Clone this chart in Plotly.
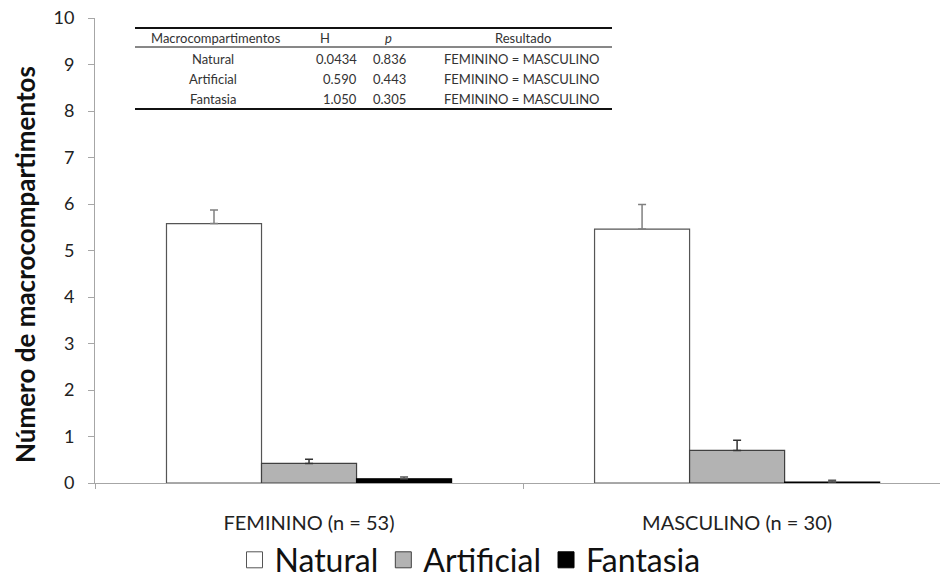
import plotly.graph_objects as go

categories = ["FEMININO (n = 53)", "MASCULINO (n = 30)"]
series_names = ["Natural", "Artificial", "Fantasia"]
natural = [5.58, 5.46]
artificial = [0.42, 0.70]
fantasia = [0.09, 0.02]
natural_err = [0.29, 0.53]
artificial_err = [0.09, 0.22]
fantasia_err = [0.04, 0.04]

y_title = "Número de macrocompartimentos"
table_header = ["Macrocompartimentos", "H", "<i>p</i>", "Resultado"]
table_groups = ["Natural", "Artificial", "Fantasia"]
table_H = ["0.0434", "0.590", "1.050"]
table_p = ["0.836", "0.443", "0.305"]
table_result = ["FEMININO = MASCULINO", "FEMININO = MASCULINO", "FEMININO = MASCULINO"]

FONT = "Lato"
values = [natural, artificial, fantasia]
errors = [natural_err, artificial_err, fantasia_err]
fills = ["#ffffff", "#b3b3b3", "#000000"]
outlines = ["#555555", "#404040", "#000000"]
errcolors = ["#808080", "#333333", "#555555"]

fig = go.Figure()
for name, v, e, fc, lc, ec in zip(series_names, values, errors, fills, outlines, errcolors):
    fig.add_trace(go.Bar(
        x=categories, y=v, name=name, showlegend=False,
        marker=dict(color=fc, line=dict(color=lc, width=1.2)),
        error_y=dict(type="data", symmetric=False, array=e, arrayminus=[0] * len(e),
                     color=ec, thickness=1.5, width=4),
    ))
    # legend entry with larger square symbol
    fig.add_trace(go.Scatter(
        x=[None], y=[None], mode="markers", name=name,
        marker=dict(symbol="square", size=16, color=fc, line=dict(color=lc, width=1)),
    ))

# positions helper (pixel -> paper)
def px_x(px):
    return (px - 95) / 845

def px_y(py):
    return (483 - py) / 465

# y-axis title
fig.add_annotation(text="<b>" + y_title + "</b>", x=px_x(25), y=px_y(265), xref="paper", yref="paper",
                   showarrow=False, textangle=-90, xanchor="center", yanchor="middle",
                   font=dict(size=26, family=FONT, color="#111111"))

tfont = dict(family=FONT, size=13, color="#333333")
x0, x1 = px_x(135), px_x(612)
fig.add_shape(type="line", xref="paper", yref="paper", x0=x0, x1=x1, y0=px_y(28), y1=px_y(28),
              line=dict(color="#111111", width=2))
fig.add_shape(type="line", xref="paper", yref="paper", x0=x0, x1=x1, y0=px_y(47), y1=px_y(47),
              line=dict(color="#111111", width=1))
fig.add_shape(type="line", xref="paper", yref="paper", x0=x0, x1=x1, y0=px_y(109), y1=px_y(109),
              line=dict(color="#111111", width=2))

hdr_y = px_y(38)
for txt, cx in zip(table_header, [216, 325, 388, 523]):
    fig.add_annotation(text=txt, x=px_x(cx), y=hdr_y, xref="paper", yref="paper",
                       showarrow=False, xanchor="center", yanchor="middle", font=tfont)
row_ys = [px_y(59), px_y(79), px_y(99)]
for i, ry in enumerate(row_ys):
    fig.add_annotation(text=table_groups[i], x=px_x(213), y=ry, xref="paper", yref="paper",
                       showarrow=False, xanchor="center", yanchor="middle", font=tfont)
    fig.add_annotation(text=table_H[i], x=px_x(359), y=ry, xref="paper", yref="paper",
                       showarrow=False, xanchor="right", yanchor="middle", font=tfont)
    fig.add_annotation(text=table_p[i], x=px_x(408), y=ry, xref="paper", yref="paper",
                       showarrow=False, xanchor="right", yanchor="middle", font=tfont)
    fig.add_annotation(text=table_result[i], x=px_x(521), y=ry, xref="paper", yref="paper",
                       showarrow=False, xanchor="center", yanchor="middle", font=tfont)

fig.update_layout(
    width=940, height=579,
    margin=dict(l=95, r=0, t=18, b=96),
    paper_bgcolor="white", plot_bgcolor="white",
    barmode="group", bargap=0.334, bargroupgap=0,
    font=dict(family=FONT, color="#222222"),
    legend=dict(orientation="h", xref="container", yref="container", x=0.5, xanchor="center",
                y=(579 - 560) / 579, yanchor="middle", bgcolor="rgba(0,0,0,0)",
                font=dict(size=32, family=FONT, color="#111111"),
                itemsizing="trace", itemwidth=30, tracegroupgap=0),
    xaxis=dict(type="category", range=[-0.5, 1.474], showline=True, linecolor="#a6a6a6",
               linewidth=1, ticks="outside", tickson="boundaries", ticklen=5, tickcolor="#a6a6a6",
               tickfont=dict(size=20, family=FONT, color="#222222"), ticklabelstandoff=22,
               tickangle=0, showgrid=False, automargin=False),
    yaxis=dict(range=[0, 10], dtick=1, showline=True, linecolor="#a6a6a6", linewidth=1,
               ticks="outside", ticklen=6, tickcolor="#a6a6a6", showgrid=False, zeroline=False,
               tickfont=dict(size=18, family=FONT, color="#222222"), ticklabelstandoff=10,
               automargin=False),
)

fig.write_html("out.html")
